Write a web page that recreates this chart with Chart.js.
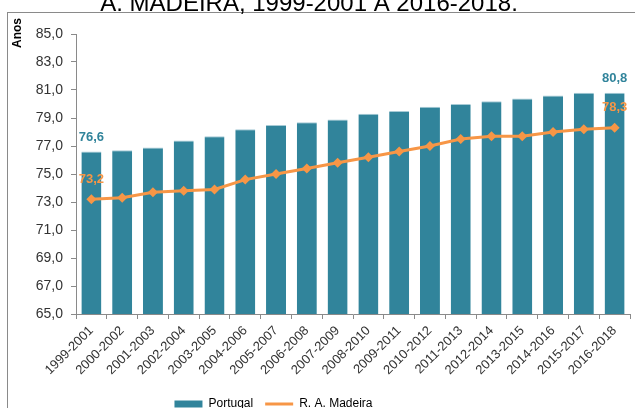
<!DOCTYPE html>
<html>
<head>
<meta charset="utf-8">
<script src="https://cdn.jsdelivr.net/npm/chart.js@4"></script>
<style>
  html, body { margin: 0; padding: 0; overflow: hidden; background: #fff; }
  canvas { display: block; }
</style>
</head>
<body>
<canvas id="chart" width="635" height="420"></canvas>
<script>
const periods = ['1999-2001', '2000-2002', '2001-2003', '2002-2004', '2003-2005', '2004-2006',
  '2005-2007', '2006-2008', '2007-2009', '2008-2010', '2009-2011', '2010-2012',
  '2011-2013', '2012-2014', '2013-2015', '2014-2016', '2015-2017', '2016-2018'];
const portugal = [76.6, 76.7, 76.9, 77.4, 77.7, 78.2, 78.5, 78.7, 78.9, 79.3, 79.5, 79.8,
  80.0, 80.2, 80.4, 80.6, 80.8, 80.8];
const madeira = [73.2, 73.3, 73.7, 73.8, 73.9, 74.6, 75.0, 75.4, 75.8, 76.2, 76.6, 77.0,
  77.5, 77.7, 77.7, 78.0, 78.2, 78.3];
const titleText = 'A. MADEIRA, 1999-2001 A 2016-2018.';
const yTitle = 'Anos';

const teal = '#31849B';
const orange = '#F79646';
const fmt = v => v.toFixed(1).replace('.', ',');

Chart.defaults.font.family = "'Liberation Sans', Arial, sans-serif";
Chart.defaults.color = '#333';

// title (cut off), frame, axis title, end labels, legend diamond
const extras = {
  id: 'extras',
  afterLayout: chart => {
    // legend sits left of centre in the cropped original
    const lg = chart.legend;
    lg.right -= 92;
    lg.adjustHitBoxes();
  },
  beforeDraw: chart => {
    const ctx = chart.ctx;
    ctx.save();
    ctx.strokeStyle = '#8a8a8a';
    ctx.lineWidth = 1;
    ctx.strokeRect(7.5, 12.5, 700, 500);
    ctx.fillStyle = '#000';
    ctx.font = "24px 'Liberation Sans', Arial, sans-serif";
    ctx.textAlign = 'center';
    ctx.textBaseline = 'alphabetic';
    ctx.fillText(titleText, 309, 11);
    ctx.translate(18, 18);
    ctx.rotate(-Math.PI / 2);
    ctx.font = "bold 12px 'Liberation Sans', Arial, sans-serif";
    ctx.textAlign = 'right';
    ctx.textBaseline = 'middle';
    ctx.fillText(yTitle, 0, 0);
    ctx.restore();
  },
  afterDraw: chart => {
    const ctx = chart.ctx;
    ctx.save();
    ctx.font = "bold 13px 'Liberation Sans', Arial, sans-serif";
    ctx.textAlign = 'center';
    ctx.textBaseline = 'middle';
    const bars = chart.getDatasetMeta(0).data;
    const pts = chart.getDatasetMeta(1).data;
    const last = periods.length - 1;
    ctx.fillStyle = teal;
    [0, last].forEach(i => {
      ctx.fillText(fmt(portugal[i]), bars[i].x, bars[i].y - 14);
    });
    ctx.fillStyle = orange;
    [0, last].forEach(i => {
      ctx.fillText(fmt(madeira[i]), pts[i].x, pts[i].y - 20);
    });
    // diamond on the legend line
    const hb = chart.legend.legendHitBoxes[1];
    if (hb) {
      const cx = hb.left + 14, cy = hb.top + 6;
      ctx.fillStyle = orange;
      ctx.beginPath();
      ctx.moveTo(cx, cy - 3.5);
      ctx.lineTo(cx + 3.5, cy);
      ctx.lineTo(cx, cy + 3.5);
      ctx.lineTo(cx - 3.5, cy);
      ctx.closePath();
      ctx.fill();
    }
    ctx.restore();
  }
};

const ctx = document.getElementById('chart').getContext('2d');
new Chart(ctx, {
  data: {
    labels: periods,
    datasets: [{
      type: 'bar',
      label: 'Portugal',
      data: portugal,
      backgroundColor: teal,
      borderColor: '#a7cbd6',
      borderWidth: {top: 1, left: 0, right: 0, bottom: 0},
      categoryPercentage: 0.65,
      barPercentage: 1,
      order: 2
    }, {
      type: 'line',
      label: 'R. A. Madeira',
      data: madeira,
      borderColor: orange,
      backgroundColor: orange,
      borderWidth: 3,
      pointStyle: 'rectRot',
      pointRadius: 5,
      pointBorderWidth: 0,
      tension: 0,
      order: 1
    }]
  },
  options: {
    responsive: false,
    animation: false,
    layout: { padding: { left: 7, right: 3, top: 34, bottom: 0 } },
    plugins: {
      tooltip: { enabled: false },
      legend: {
        position: 'bottom',
        labels: {
          font: { size: 12 },
          color: '#333',
          usePointStyle: true,
          pointStyleWidth: 28,
          boxHeight: 7,
          padding: 12,
          generateLabels: chart => [{
            text: 'Portugal', fillStyle: teal, strokeStyle: teal, lineWidth: 0,
            pointStyle: 'rect', datasetIndex: 0
          }, {
            text: 'R. A. Madeira', fillStyle: orange, strokeStyle: orange, lineWidth: 3,
            pointStyle: 'line', datasetIndex: 1
          }]
        }
      }
    },
    scales: {
      x: {
        offset: true,
        grid: { offset: true, drawOnChartArea: false, tickLength: 5, color: '#8a8a8a' },
        border: { color: '#8a8a8a' },
        ticks: { minRotation: 45, maxRotation: 45, font: { size: 13 }, color: '#333', padding: 4 },
        afterFit: s => { s.height = 72; }
      },
      y: {
        min: 65,
        max: 85,
        grid: { drawOnChartArea: false, tickLength: 5, color: '#8a8a8a' },
        border: { color: '#8a8a8a' },
        ticks: { stepSize: 2, font: { size: 14 }, color: '#333', padding: 8, callback: v => fmt(v) },
        afterFit: s => { s.width = 69; }
      }
    }
  },
  plugins: [extras]
});
</script>
</body>
</html>
